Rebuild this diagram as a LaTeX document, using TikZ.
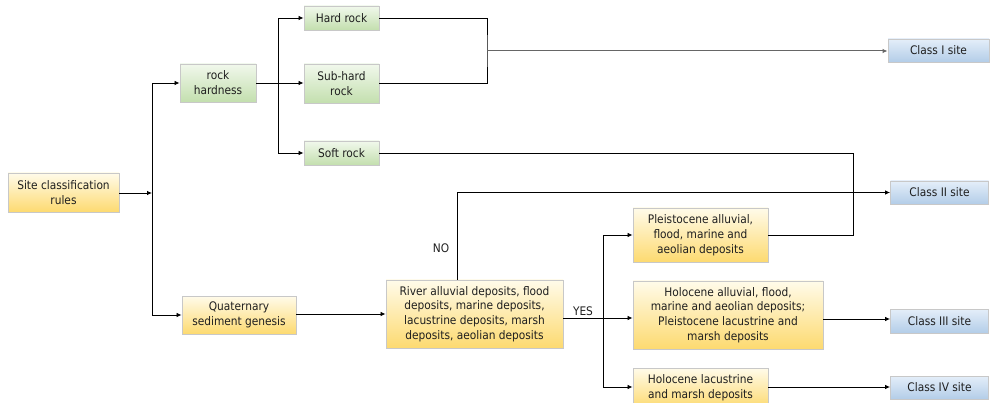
\documentclass[tikz,border=0pt]{standalone}
\usepackage{fontspec}
\setmainfont{DejaVu Sans Condensed}
\usetikzlibrary{arrows.meta}
\definecolor{gtop}{HTML}{F1F8EC}
\definecolor{gbot}{HTML}{C3DFAE}
\definecolor{ytop}{HTML}{FFFBEA}
\definecolor{ybot}{HTML}{FDDA70}
\definecolor{btop}{HTML}{E4EEF9}
\definecolor{bbot}{HTML}{B3CDE8}
\definecolor{edge}{HTML}{C8C8C8}
\tikzset{
  box/.style={draw=edge, line width=0.9pt, align=center, inner sep=1pt,
    font=\fontsize{11.8}{14.8}\selectfont, text=black!88},
  gbox/.style={box, top color=gtop, bottom color=gbot},
  ybox/.style={box, top color=ytop, bottom color=ybot},
  bbox/.style={box, top color=btop, bottom color=bbot},
  wire/.style={line width=0.8pt, black},
  arr/.style={wire, -{Latex[length=5pt,width=4.5pt]}},
  lbl/.style={font=\fontsize{11.8}{13}\selectfont, text=black!88}
}
\begin{document}
\begin{tikzpicture}[x=1pt,y=-1pt]
\useasboundingbox (0,0) rectangle (990,403);
\begin{scope}
\clip (0,0) rectangle (990,403);
\node[ybox, minimum width=111, minimum height=39] (rules) at (63.5,192.5) {Site classification\\rules};
\node[gbox, minimum width=76, minimum height=38] (rockh) at (218,83) {rock\\hardness};
\node[ybox, minimum width=114, minimum height=38] (quat) at (239,315) {Quaternary\\sediment genesis};
\node[gbox, minimum width=75, minimum height=24] (hardr) at (341.5,18) {Hard rock};
\node[gbox, minimum width=75, minimum height=39] (subh) at (341.5,83.5) {Sub-hard\\rock};
\node[gbox, minimum width=75, minimum height=24] (soft) at (341.5,153) {Soft rock};
\node[ybox, minimum width=177, minimum height=68] (river) at (474.5,314) {River alluvial deposits, flood\\deposits, marine deposits,\\lacustrine deposits, marsh\\deposits, aeolian deposits};
\node[ybox, minimum width=135, minimum height=54] (pleist) at (700.5,235) {Pleistocene alluvial,\\flood, marine and\\aeolian deposits};
\node[ybox, minimum width=190, minimum height=68] (holoA) at (728,315) {Holocene alluvial, flood,\\marine and aeolian deposits;\\Pleistocene lacustrine and\\marsh deposits};
\node[ybox, minimum width=135, minimum height=40] (holoL) at (700.5,388) {Holocene lacustrine\\and marsh deposits};
\node[bbox, minimum width=101, minimum height=23] (c1) at (938.5,50.5) {Class I site};
\node[bbox, minimum width=98, minimum height=23] (c2) at (939.5,192.5) {Class II site};
\node[bbox, minimum width=98, minimum height=24] (c3) at (939.5,321) {Class III site};
\node[bbox, minimum width=98, minimum height=23] (c4) at (939.5,387.5) {Class IV site};
\end{scope}

\coordinate (j1) at (152,193);
\coordinate (j2) at (278,83);
\coordinate (j3) at (487,51);
\coordinate (j4) at (853,192);
\coordinate (j5) at (603,318);
\coordinate (jn) at (457,280);

\draw[arr] (rules.east |- j1) -- (j1);
\draw[arr] (j1) |- (rockh.west);
\draw[arr] (j1) |- (quat.west);
\draw[wire] (rockh.east) -- (j2);
\draw[arr] (j2) |- (hardr.west);
\draw[arr] (j2) -- (subh.west |- j2);
\draw[arr] (j2) |- (soft.west);
\draw[wire] (hardr.east) -| (j3) |- (subh.east);
\draw[arr, black!60, line width=1pt] (j3) -- (c1.west |- j3);
\draw[wire] (soft.east) -| (j4) |- (pleist.east);
\draw[arr] (quat.east |- river.west) -- (river.west);
\draw[arr] (jn) |- (c2.west);
\node[lbl] (no) at (441,248) {NO};
\draw[wire] (river.east |- j5) -- (j5);
\node[lbl] (yes) at (583,311) {YES};
\draw[arr] (j5) -- (holoA.west |- j5);
\draw[arr] (j5) |- (pleist.west);
\draw[arr] (j5) |- (holoL.west |- 0,387);
\draw[arr] (holoA.east |- 0,319) -- (c3.west |- 0,319);
\draw[arr] (holoL.east |- 0,387) -- (c4.west |- 0,387);
\end{tikzpicture}
\end{document}
